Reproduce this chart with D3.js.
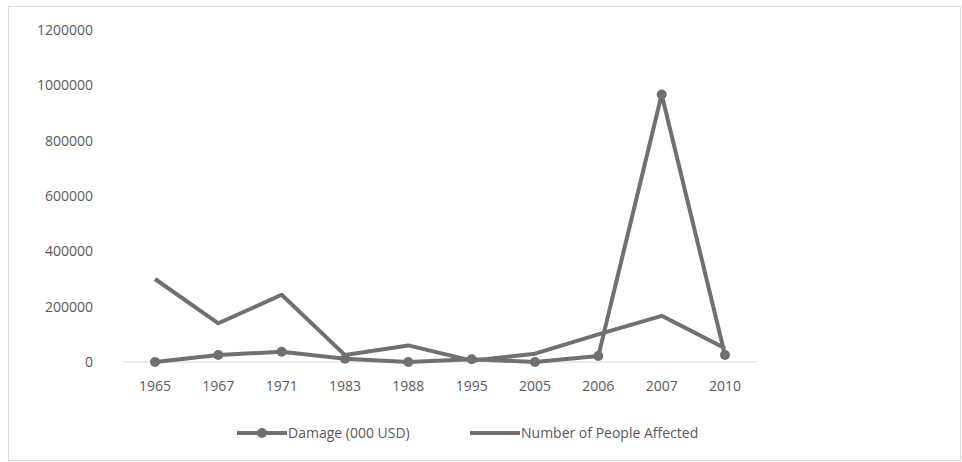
<!DOCTYPE html>
<html><head><meta charset="utf-8">
<script src="https://cdn.jsdelivr.net/npm/d3@7"></script>
<style>body{margin:0;background:#fff}text{font-family:"Open Sans",sans-serif;fill:#595959}</style>
</head><body><svg id="c" width="962" height="462"></svg>
<script>
const years = ["1965","1967","1971","1983","1988","1995","2005","2006","2007","2010"];
const damage = [0,25000,37000,12000,0,10000,0,22000,967000,25000];
const affected = [300000,140000,243000,25000,60000,5000,30000,100000,167000,50000];
const yTicks = [0,200000,400000,600000,800000,1000000,1200000];

const svg = d3.select("#c");
svg.append("rect").attr("x",8.5).attr("y",6.5).attr("width",952).attr("height",454)
  .attr("fill","none").attr("stroke","#d9d9d9");

const x = d3.scalePoint().domain(years).range([155,725]);
const y = d3.scaleLinear().domain([0,1200000]).range([362,30]);
const col = "#707070";

yTicks.forEach(t=>{
  svg.append("text").attr("x",93).attr("y",y(t)+5).attr("text-anchor","end")
    .attr("font-size",14).text(t);
});
svg.append("line").attr("x1",123).attr("x2",757).attr("y1",y(0)).attr("y2",y(0)).attr("stroke","#d9d9d9");
years.forEach(yr=>{
  svg.append("text").attr("x",x(yr)).attr("y",391).attr("text-anchor","middle").attr("font-size",14).text(yr);
});

const line = d3.line().x((d,i)=>x(years[i])).y(d=>y(d));
svg.append("path").attr("d",line(affected)).attr("fill","none").attr("stroke",col).attr("stroke-width",4).attr("stroke-linejoin","round");
svg.append("path").attr("d",line(damage)).attr("fill","none").attr("stroke",col).attr("stroke-width",4).attr("stroke-linejoin","round");
svg.selectAll(".m").data(damage).enter().append("circle")
  .attr("cx",(d,i)=>x(years[i])).attr("cy",d=>y(d)).attr("r",5).attr("fill",col);

// legend
const ly = 433;
svg.append("line").attr("x1",237).attr("x2",287).attr("y1",ly).attr("y2",ly).attr("stroke",col).attr("stroke-width",4);
svg.append("circle").attr("cx",262).attr("cy",ly).attr("r",5).attr("fill",col);
svg.append("text").attr("x",288).attr("y",ly+5).attr("font-size",14).text("Damage (000 USD)");
svg.append("line").attr("x1",470).attr("x2",520).attr("y1",ly).attr("y2",ly).attr("stroke",col).attr("stroke-width",4);
svg.append("text").attr("x",521).attr("y",ly+5).attr("font-size",14).text("Number of People Affected");
</script></body></html>
